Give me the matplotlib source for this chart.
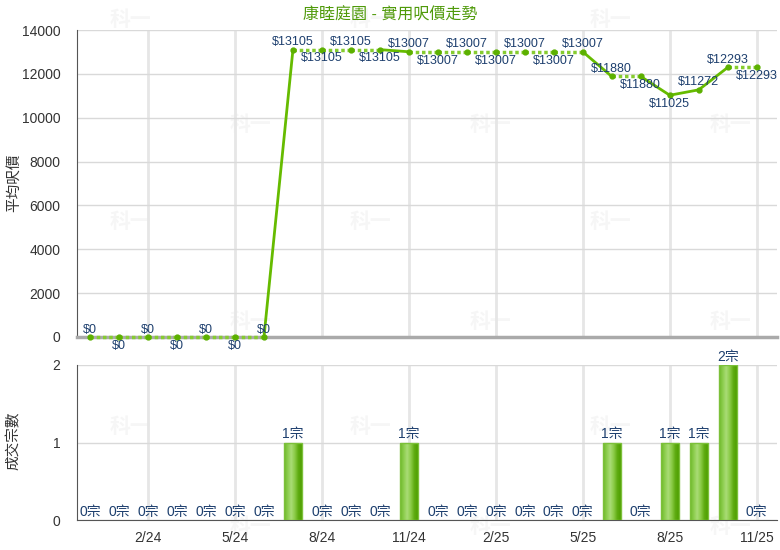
import numpy as np
import matplotlib
matplotlib.use("Agg")
import matplotlib.pyplot as plt
from matplotlib.patches import Rectangle
from matplotlib.colors import LinearSegmentedColormap

plt.rcParams["font.family"] = ["Liberation Sans", "Noto Sans CJK TC", "DejaVu Sans"]

# data
months = ["12/23", "1/24", "2/24", "3/24", "4/24", "5/24", "6/24", "7/24", "8/24",
          "9/24", "10/24", "11/24", "12/24", "1/25", "2/25", "3/25", "4/25", "5/25",
          "6/25", "7/25", "8/25", "9/25", "10/25", "11/25"]
price = [0, 0, 0, 0, 0, 0, 0, 13105, 13105, 13105, 13105, 13007, 13007, 13007,
         13007, 13007, 13007, 13007, 11880, 11880, 11025, 11272, 12293, 12293]
deals = [0, 0, 0, 0, 0, 0, 0, 1, 0, 0, 0, 1, 0, 0, 0, 0, 0, 0, 1, 0, 1, 1, 2, 0]
label_up = [1, 0, 1, 0, 1, 0, 1, 1, 0, 1, 0, 1, 0, 1, 0, 1, 0, 1, 1, 0, 0, 1, 1, 0]
tick_idx = [2, 5, 8, 11, 14, 17, 20, 23]

title = "康睦庭園 - 實用呎價走勢"
label_color = "#1d3f6e"
text_color = "#333333"
green = "#66bb00"

fig = plt.figure(figsize=(7.8, 5.5), dpi=100)

# faint watermarks, behind everything
for row, yy in enumerate([20, 125, 222, 322, 427, 527]):
    xs = [130, 370, 610] if row % 2 == 0 else [250, 490, 730]
    for xx in xs:
        fig.text(xx / 780, 1 - yy / 550, "科一", ha="center", va="center",
                 fontsize=15, fontweight="bold", color="#f6f6f6", zorder=-5)

ax1 = fig.add_axes([77 / 780, 1 - 337 / 550, 700 / 780, 307 / 550])
ax2 = fig.add_axes([77 / 780, 1 - 520 / 550, 700 / 780, 155 / 550])

x = np.arange(len(months))
xlim = (-0.45, 23.7)

for ax in (ax1, ax2):
    ax.set_facecolor("none")
    ax.set_xlim(*xlim)
    ax.set_xticks(x[tick_idx])
    ax.tick_params(length=0, colors=text_color, labelsize=10)
    ax.tick_params(axis="y", pad=12)
    ax.tick_params(axis="x", pad=8)
    ax.spines["top"].set_visible(False)
    ax.spines["right"].set_visible(False)
    ax.spines["left"].set_color("#555555")
    ax.grid(axis="y", color="#d9d9d9", lw=1)
    ax.grid(axis="x", color="#e6e6e6", lw=2)
    ax.set_axisbelow(True)

# price panel
ax1.set_ylim(0, 14000)
ax1.set_yticks(np.arange(0, 14001, 2000))
ax1.tick_params(labelbottom=False)
ax1.spines["bottom"].set_color("#aaaaaa")
ax1.spines["bottom"].set_linewidth(2.5)

for i in range(1, len(x)):
    if deals[i] > 0:
        ax1.plot(x[i - 1:i + 1], price[i - 1:i + 1], color=green, lw=2, zorder=3,
                 solid_capstyle="round", clip_on=False)
    else:
        ax1.plot(x[i - 1:i + 1], price[i - 1:i + 1], color="#86cc30", lw=2.5,
                 ls=(0, (1, 0.8)), zorder=3, clip_on=False)
ax1.plot(x, price, "o", color="#5cb000", ms=3.5, zorder=4, clip_on=False)

for i, v in enumerate(price):
    if label_up[i]:
        ax1.annotate(f"${v}", (x[i], v), xytext=(0, 1), textcoords="offset points",
                     ha="center", va="bottom", fontsize=9, color=label_color, zorder=5)
    else:
        ax1.annotate(f"${v}", (x[i], v), xytext=(0, -2), textcoords="offset points",
                     ha="center", va="top", fontsize=9, color=label_color, zorder=5)

# deals panel
ax2.set_ylim(0, 2)
ax2.set_yticks([0, 1, 2])
ax2.set_xticklabels([months[i] for i in tick_idx])
ax2.spines["bottom"].set_color("#555555")

cmap = LinearSegmentedColormap.from_list(
    "bar", ["#6cb82a", "#8ccd4c", "#a9dc76", "#8ccc48", "#5fac12", "#4e9e00"])
grad = np.linspace(0, 1, 64).reshape(1, -1)
bw = 0.62
for i, n in enumerate(deals):
    if n > 0:
        rect = Rectangle((x[i] - bw / 2, 0), bw, n, facecolor="none",
                         edgecolor="#7cc03a", lw=1, zorder=4)
        ax2.add_patch(rect)
        im = ax2.imshow(grad, cmap=cmap, aspect="auto", zorder=3,
                        extent=[x[i] - bw / 2, x[i] + bw / 2, 0, n])
        im.set_clip_path(rect)
    ax2.annotate(f"{n}宗", (x[i], n), xytext=(0, 1), textcoords="offset points",
                 ha="center", va="bottom", fontsize=10, color=label_color, zorder=5,
                 annotation_clip=False)
ax2.set_xlim(*xlim)
ax2.set_ylim(0, 2)

fig.text(0.5, 1 - 15 / 550, title, ha="center", va="center", fontsize=11.5, color="#4f9a0a")
fig.text(14 / 780, 1 - 183 / 550, "平均呎價", rotation=90, ha="center", va="center",
         fontsize=10.5, color=text_color)
fig.text(14 / 780, 1 - 441 / 550, "成交宗數", rotation=90, ha="center", va="center",
         fontsize=10.5, color=text_color)

fig.savefig("out.png", dpi=100)
